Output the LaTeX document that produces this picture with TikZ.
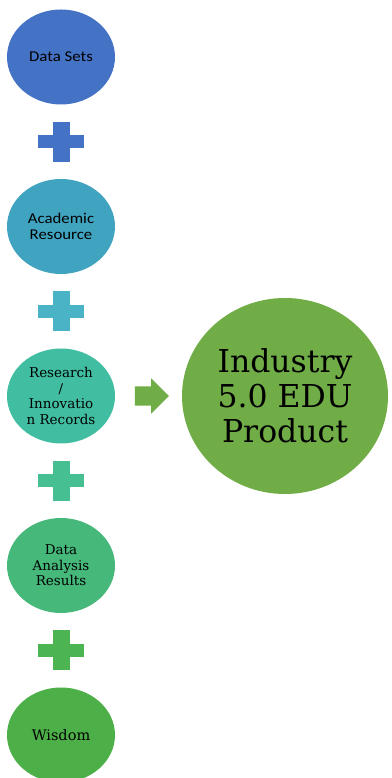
\documentclass[tikz,border=0pt]{standalone}
\usepackage{fontspec}
\usetikzlibrary{shapes.geometric,shapes.arrows,positioning}
\newfontfamily\calib[FakeStretch=1.12]{Carlito}
\newfontfamily\slab{DejaVu Serif}
\definecolor{setsblue}{HTML}{4472C4}
\definecolor{acadteal}{HTML}{40A3C0}
\definecolor{researchteal}{HTML}{41BEA1}
\definecolor{analysisgreen}{HTML}{45B87A}
\definecolor{wisdomgreen}{HTML}{4DAF48}
\definecolor{productgreen}{HTML}{70AD47}
\definecolor{plusteal}{HTML}{4AB3C6}
\definecolor{plusmint}{HTML}{46BF93}
\definecolor{plusgreen}{HTML}{4CB551}
\tikzset{
  blob/.style={ellipse,fill=#1,minimum width=108pt,minimum height=95pt,
    inner sep=0pt,align=center,text=black},
  plus sign/.style={minimum width=46pt,minimum height=40pt,inner sep=0pt,
    path picture={
      \fill[#1] ([yshift=-6.5pt]path picture bounding box.west) rectangle
        ([yshift=6.5pt]path picture bounding box.east);
      \fill[#1] ([xshift=-8.5pt]path picture bounding box.south) rectangle
        ([xshift=8.5pt]path picture bounding box.north);}}
}
\begin{document}
\begin{tikzpicture}[node distance=84.75pt]

  \useasboundingbox (0,0) rectangle (391pt,778pt);

  \node[blob=setsblue,font=\calib\fontsize{15}{16}\selectfont] (sets)
    at (61pt,721pt) {Data Sets};
  \node[plus sign=setsblue] (p1) [below of=sets] {};
  \node[blob=acadteal,font=\calib\fontsize{15}{16}\selectfont] (acad)
    [below of=p1] {Academic\\Resource};
  \node[plus sign=plusteal] (p2) [below of=acad] {};
  \node[blob=researchteal,font=\slab\fontsize{13.5}{15.5}\selectfont] (research)
    [below of=p2] {Research\\/\\Innovatio\\n Records};
  \node[plus sign=plusmint] (p3) [below of=research] {};
  \node[blob=analysisgreen,font=\slab\fontsize{13.5}{15.5}\selectfont] (analysis)
    [below of=p3] {Data\\Analysis\\Results};
  \node[plus sign=plusgreen] (p4) [below of=analysis] {};
  \node[blob=wisdomgreen,font=\slab\fontsize{14.5}{16}\selectfont] (wisdom)
    [below of=p4] {Wisdom};

  \node[single arrow,fill=productgreen,minimum width=35pt,minimum height=34pt,
    single arrow head extend=8pt,inner xsep=0pt,inner ysep=9.5pt] (arrow)
    [right of=research,node distance=86pt] {};
  \node[ellipse,fill=productgreen,minimum width=206pt,minimum height=196pt,
    inner sep=0pt,align=center,font=\slab\fontsize{31.5}{35}\selectfont] (product)
    [right of=arrow,node distance=138pt] {Industry\\5.0 EDU\\Product};

\end{tikzpicture}
\end{document}
